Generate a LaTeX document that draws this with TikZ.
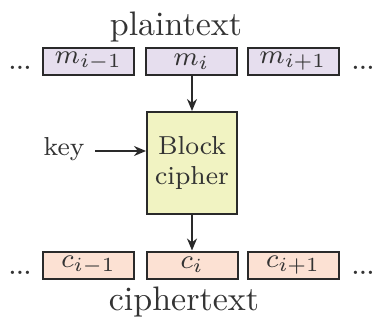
\documentclass[tikz,border=0pt]{standalone}
\usetikzlibrary{arrows.meta}
\definecolor{lav}{HTML}{E6DEEE}
\definecolor{peach}{HTML}{FCE1D3}
\definecolor{yel}{HTML}{F1F3C2}
\definecolor{ink}{HTML}{2A2A2A}
\definecolor{txt}{HTML}{333333}
\newcommand{\mydots}{.\kern-0.4pt.\kern-0.4pt.}
\begin{document}
\begin{tikzpicture}[x=0.3pt,y=-0.3pt,
  blk/.style={draw=ink,line width=0.6pt,minimum width=27.3pt,minimum height=8.1pt,inner sep=0pt,text=txt,font=\fontsize{8.2}{9}\selectfont},
  pbox/.style={blk,fill=lav},
  cbox/.style={blk,fill=peach},
  lbl/.style={text=txt,inner sep=0pt,font=\fontsize{10.2}{12}\selectfont},
  dts/.style={text=txt,inner sep=0pt,anchor=base,font=\fontsize{9.5}{10}\selectfont},
  arr/.style={-{Stealth[length=3.6pt,width=3pt]},line width=0.5pt,draw=ink}]
\useasboundingbox (0,0) rectangle (374,320);
\node[lbl,anchor=base] (pt) at (176,36) {plaintext};
\node[pbox] (m1) at (88.5,61.5) {$m_{i-1}$};
\node[pbox] (m2) at (191.5,61.5) {$m_{i}$};
\node[pbox] (m3) at (293,61.5) {$m_{i+1}$};
\node[dts] (d1) at (20,70) {\mydots};
\node[dts] (d2) at (363,70) {\mydots};
\node[draw=ink,line width=0.6pt,fill=yel,minimum width=27pt,minimum height=30.6pt,inner sep=0pt,text=txt,align=center,font=\fontsize{7.8}{9.2}\selectfont] (bc) at (192,163) {Block\\cipher};
\node[text=txt,inner sep=0pt,font=\fontsize{7.8}{9}\selectfont] (key) at (64,149) {key};
\coordinate (ks) at (95,151);
\draw[arr] (ks) -- (ks -| bc.west);
\draw[arr] (m2.south -| bc.north) -- (bc.north);
\node[cbox] (c1) at (88.5,265) {$c_{i-1}$};
\node[cbox] (c2) at (192,265) {$c_{i}$};
\node[cbox] (c3) at (293,265) {$c_{i+1}$};
\draw[arr] (bc.south) -- (c2.north);
\node[dts] (d3) at (20,274) {\mydots};
\node[dts] (d4) at (363,274) {\mydots};
\node[lbl,anchor=base] (ct) at (184,310) {ciphertext};
\end{tikzpicture}
\end{document}
